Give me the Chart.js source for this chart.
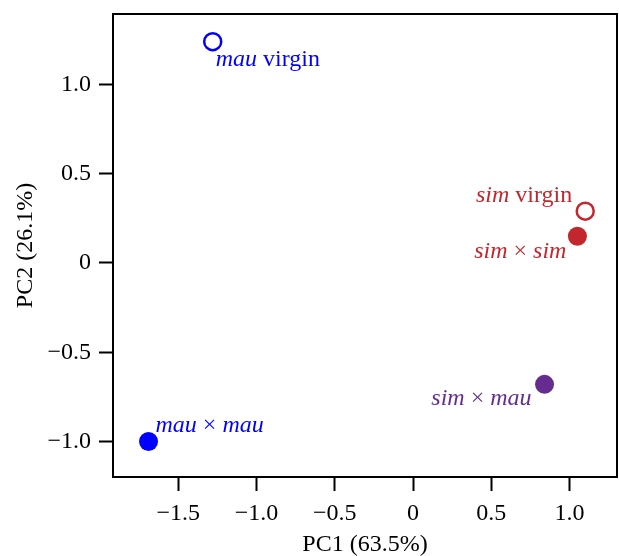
<!DOCTYPE html>
<html>
<head>
<meta charset="utf-8">
<script src="https://cdn.jsdelivr.net/npm/chart.js@4/dist/chart.umd.min.js"></script>
<style>
  body { margin: 0; background: #fff; }
  canvas { display: block; }
</style>
</head>
<body>
<canvas id="pca" width="619" height="556"></canvas>
<script>
// PCA scores per group
const groups = ['mau virgin', 'sim virgin', 'sim × sim', 'sim × mau', 'mau × mau'];
const pc1 = [-1.28, 1.10, 1.05, 0.84, -1.69];
const pc2 = [1.24, 0.29, 0.15, -0.68, -1.00];
// label text, [text, italic]
const labelParts = [
  [['mau', true], [' virgin', false]],
  [['sim', true], [' virgin', false]],
  [['sim', true], [' × ', false], ['sim', true]],
  [['sim', true], [' × ', false], ['mau', true]],
  [['mau', true], [' × ', false], ['mau', true]]
];
const xTicks = [-1.5, -1.0, -0.5, 0, 0.5, 1.0];
const yTicks = [-1.0, -0.5, 0, 0.5, 1.0];

// styles
const colors = ['#0000ff', '#c1272d', '#c1272d', '#662d91', '#0000ff'];
const open = [true, true, false, false, false];
// label anchor: dx, dy (baseline) from point, align
const labelPos = [[3, 24, 'left'], [-13, -9, 'right'], [-11, 22, 'right'], [-13, 21, 'right'], [7, -9, 'left']];

const FONT = 'Liberation Serif, Times New Roman, Times, serif';
Chart.defaults.font.family = FONT;
Chart.defaults.color = '#000';

const fmt = (v) => {
  if (Math.abs(v) < 1e-9) return '0';
  return (v < 0 ? '\u2212' : '') + Math.abs(v).toFixed(1);
};

const datasets = groups.map((g, i) => ({
  label: g,
  data: [{x: pc1[i], y: pc2[i]}],
  pointRadius: open[i] ? 8.5 : 9.5,
  pointBorderWidth: open[i] ? 2.5 : 0,
  pointBorderColor: colors[i],
  pointBackgroundColor: open[i] ? '#fff' : colors[i],
  clip: false
}));

const framePlugin = {
  id: 'frame',
  afterDatasetsDraw(chart) {
    const ctx = chart.ctx;
    const a = chart.chartArea;
    ctx.save();
    ctx.strokeStyle = '#000';
    ctx.lineWidth = 2;
    ctx.strokeRect(a.left, a.top, a.right - a.left, a.bottom - a.top);

    ctx.textBaseline = 'alphabetic';
    const xs = chart.scales.x, ys = chart.scales.y;
    groups.forEach((g, i) => {
      const px = xs.getPixelForValue(pc1[i]);
      const py = ys.getPixelForValue(pc2[i]);
      const [dx, dy, align] = labelPos[i];
      const parts = labelParts[i];
      let widths = parts.map(([t, it]) => {
        ctx.font = (it ? 'italic ' : '') + '24px ' + FONT;
        return ctx.measureText(t).width;
      });
      const total = widths.reduce((s, w) => s + w, 0);
      let x = align === 'left' ? px + dx : px + dx - total;
      ctx.fillStyle = colors[i];
      ctx.textAlign = 'left';
      parts.forEach(([t, it], k) => {
        ctx.font = (it ? 'italic ' : '') + '24px ' + FONT;
        ctx.fillText(t, x, py + dy);
        x += widths[k];
      });
    });
    ctx.restore();
  }
};

const noPad = (s) => { s.paddingLeft = 0; s.paddingRight = 0; s.paddingTop = 0; s.paddingBottom = 0; };

const axisCommon = {
  type: 'linear',
  border: { display: false },
  grid: { drawOnChartArea: false, drawTicks: true, tickLength: 14, tickWidth: 2, tickColor: '#000' }
};

function draw() {
  new Chart(document.getElementById('pca'), {
    type: 'scatter',
    data: { datasets },
    options: {
      responsive: false,
      animation: false,
      layout: { autoPadding: false, padding: { top: 14, right: 2, left: 0, bottom: 0 } },
      plugins: { legend: { display: false }, tooltip: { enabled: false } },
      scales: {
        x: {
          ...axisCommon,
          min: -1.917, max: 1.303,
          afterFit: (s) => { s.height = 79; noPad(s); },
          afterBuildTicks: (s) => { s.ticks = xTicks.map(v => ({ value: v })); },
          ticks: { color: '#000', font: { size: 24 }, padding: 8, maxRotation: 0, autoSkip: false, callback: fmt },
          title: { display: true, text: 'PC1 (63.5%)', color: '#000', font: { size: 24, lineHeight: 0.9 }, padding: { top: 0, bottom: 0 } }
        },
        y: {
          ...axisCommon,
          min: -1.199, max: 1.395,
          afterFit: (s) => { s.width = 113; noPad(s); },
          afterBuildTicks: (s) => { s.ticks = yTicks.map(v => ({ value: v })); },
          ticks: { color: '#000', font: { size: 24 }, padding: 8, autoSkip: false, callback: fmt },
          title: { display: true, text: 'PC2 (26.1%)', color: '#000', font: { size: 24 }, padding: { top: 11, bottom: 0 } }
        }
      }
    },
    plugins: [framePlugin]
  });
}

Promise.all([
  document.fonts.load('24px "Liberation Serif"'),
  document.fonts.load('italic 24px "Liberation Serif"')
]).then(draw, draw);
</script>
</body>
</html>
